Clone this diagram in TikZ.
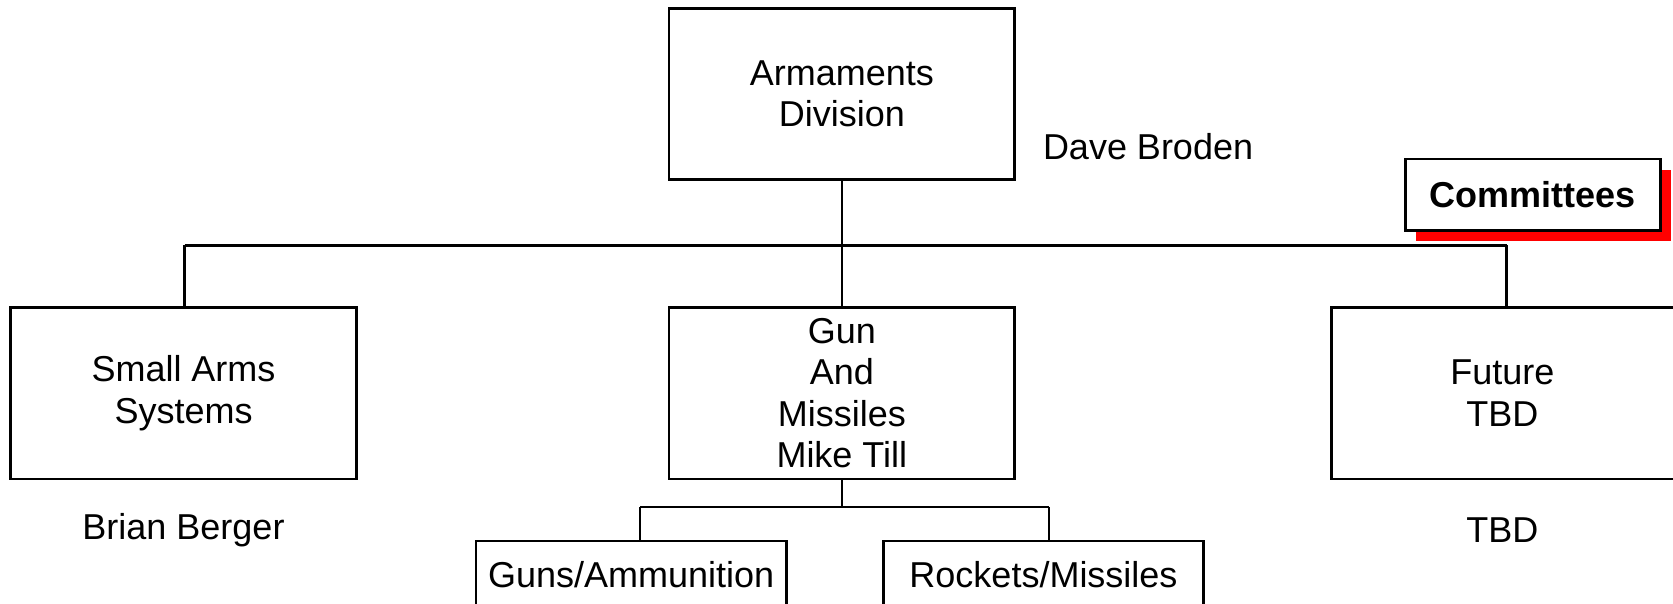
\documentclass[tikz,border=0pt]{standalone}
\usepackage{fontspec}
\setmainfont{Liberation Sans}
\begin{document}
\begin{tikzpicture}[x=1.067pt,y=-1.067pt,
  line width=2.6pt,
  every node/.style={font=\fontsize{36}{41.5}\selectfont, inner sep=0pt, align=center},
  orgbox/.style 2 args={draw, line width=2.6pt, fill=white, minimum width=#1*1.067pt, minimum height=#2*1.067pt}]
\useasboundingbox (0,0) rectangle (1568,566);
\clip (0,0) rectangle (1568,566);
% boxes
\node[orgbox={324}{160}] (arm) at (789,88) {Armaments\\Division};
\node (dave) at (1076,137) {Dave Broden};
\node[orgbox={324}{161}] (small) at (172,368.5) {Small Arms\\Systems};
\node (brian) at (172,497) {Brian Berger};
\node[orgbox={324}{161}] (gun) at (789,368.5) {Gun\\And\\Missiles\\Mike Till};
% Future box runs off the right edge of the picture
\draw (1248,288) rectangle (1600,449);
\node[minimum width=320*1.067pt, minimum height=161*1.067pt] (future) at (1408,368.5) {Future\\TBD};
\node (tbd) at (1408,497) {TBD};
\node[orgbox={291}{63}] (guns) at (591.5,538.5) {Guns/Ammunition};
\node[orgbox={300}{63}] (rockets) at (978,538.5) {Rockets/Missiles};
% committees with red shadow
\fill[red] (1327,159) rectangle (1566,226);
\node[orgbox={239}{67}, font=\fontsize{36}{41.5}\selectfont\bfseries] (comm) at (1436.5,182.5) {Committees};
% connectors
\coordinate (busL) at (173,230);
\coordinate (busR) at (1412,230);
\draw (arm.south) -- (gun.north);
\draw (busL) -- (busR);
\draw (busL) -- (busL |- small.north);
\draw (busR) -- (busR |- future.north);
\coordinate (subL) at (600,475);
\coordinate (subR) at (983,475);
\draw (gun.south) -- (gun.south |- subL);
\draw (subL) -- (subR);
\draw (subL) -- (subL |- guns.north);
\draw (subR) -- (subR |- rockets.north);
\end{tikzpicture}
\end{document}
